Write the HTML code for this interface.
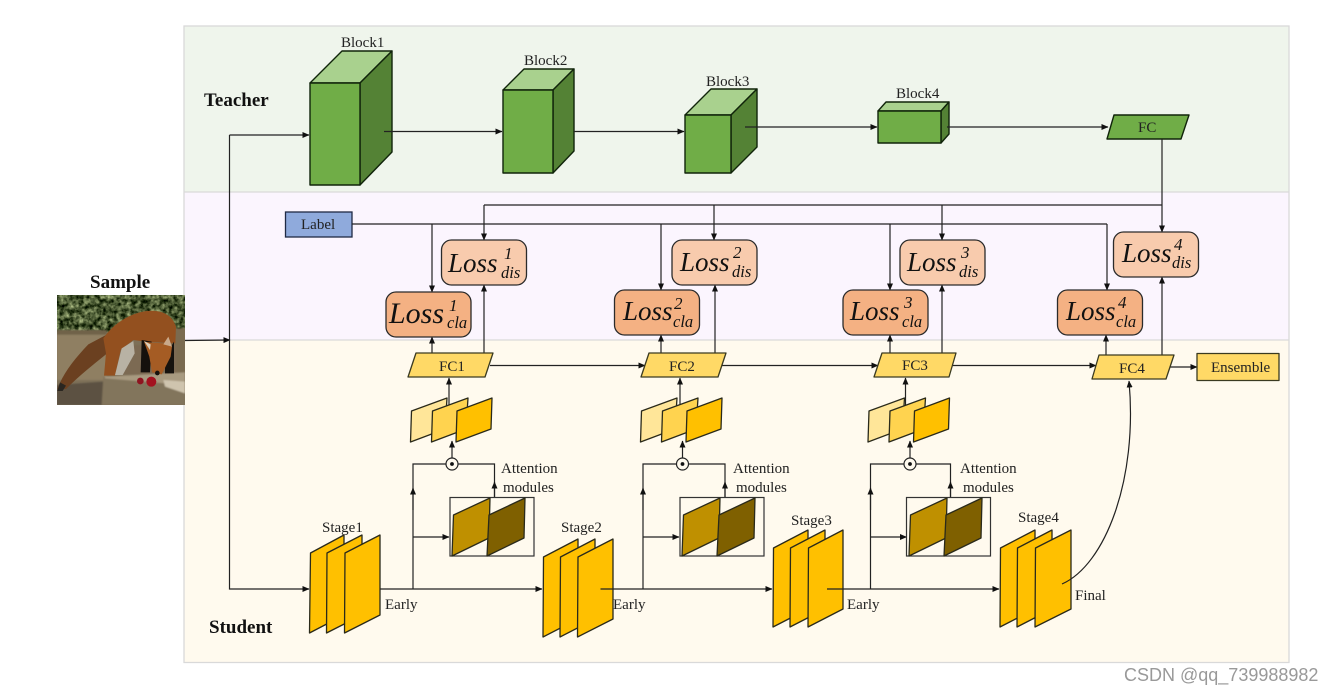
<!DOCTYPE html>
<html><head><meta charset="utf-8"><style>
html,body{margin:0;padding:0;background:#fff;width:1331px;height:693px;overflow:hidden}
svg{display:block}
text{font-family:"Liberation Serif",serif;fill:#222;font-size:15px}
.b{font-weight:bold;font-size:19px;fill:#111}
.l{font-style:italic;fill:#111}
.ll{font-size:27px}
.l1{font-size:30px}
.su{font-size:17px}
.sb{font-size:16.5px}
.ln{fill:none;stroke:#222;stroke-width:1.2}
.a{fill:none;stroke:#222;stroke-width:1.2;marker-end:url(#h)}
.s{stroke:#2a2a1a;stroke-width:1.3;stroke-linejoin:round}
.g{stroke:#10240a;stroke-width:1.4;stroke-linejoin:round}
</style></head><body>
<svg width="1331" height="693" viewBox="0 0 1331 693" xmlns="http://www.w3.org/2000/svg">
<defs>
<marker id="h" markerUnits="userSpaceOnUse" markerWidth="7" markerHeight="6" refX="6.5" refY="3" orient="auto"><path d="M0,0 L7,3 L0,6 Z" fill="#111"/></marker>
<filter id="bl" x="-10%" y="-10%" width="120%" height="120%"><feGaussianBlur stdDeviation="2.2"/></filter>
<filter id="fol" x="0" y="0" width="100%" height="100%" color-interpolation-filters="sRGB"><feTurbulence type="fractalNoise" baseFrequency="0.07" numOctaves="3" seed="7"/><feColorMatrix type="matrix" values="0 0 0 1.1 -0.26  0 0 0 1.1 -0.2  0 0 0 0.9 -0.25  0 0 0 0 1"/></filter>
<clipPath id="ph"><rect x="57" y="295" width="128" height="110"/></clipPath>
</defs>

<!-- panels -->
<rect x="184" y="26" width="1105" height="166" fill="#eff5ec"/>
<rect x="184" y="192" width="1105" height="148" fill="#fbf5fe"/>
<rect x="184" y="340" width="1105" height="322" fill="#fffaee"/>
<rect x="184" y="26" width="1105" height="636.500" fill="none" stroke="#d9d9d9" stroke-width="1.3"/>
<path d="M184,192H1289M184,340H1289" stroke="#d9d9d9" stroke-width="1.3" fill="none"/>

<!-- photo -->
<g clip-path="url(#ph)">
<rect x="57" y="295" width="128" height="110" fill="#7d7058"/>
<g transform="translate(50,285) scale(.33333)">
<rect x="20" y="30" width="390" height="110" fill="#4c5236" filter="url(#fol)"/>
</g>
<g transform="translate(50,285) scale(.33333)" filter="url(#bl)">
<rect x="20" y="135" width="150" height="150" fill="#8f7f62"/>
<rect x="20" y="135" width="150" height="14" fill="#6f624a"/>
<rect x="360" y="130" width="50" height="150" fill="#7a6a50"/>
<rect x="200" y="180" width="180" height="90" fill="#7c6b52"/>
<path d="M20,300 L160,290 V360 H20Z" fill="#5b5142"/>
<path d="M160,275 L405,295 V360 H155Z" fill="#82755c"/>
<path d="M165,275 L405,262 V300 L165,280Z" fill="#a89a80"/>
<path d="M340,285 L405,290 V325 L345,305Z" fill="#cfc4ae"/>
</g>
<g transform="translate(50,285) scale(.33333)" style="filter:blur(.6px)">
<path d="M22,312 C40,265 70,225 115,178 L168,150 L178,200 C135,235 90,270 48,312Z" fill="#6b4020"/>
<path d="M22,318 L30,292 L48,302 L38,318Z" fill="#2a2620"/>
<path d="M160,160 C190,115 240,85 290,78 C330,74 365,85 378,125 L376,175 L285,170 L250,165 L212,195 L195,272 L162,272 L168,205Z" fill="#93501f"/>
<path d="M215,190 L250,168 L254,205 L218,270 L195,270Z" fill="#b8b2a4"/>
<path d="M275,165 L305,170 L300,262 L272,262Z" fill="#15110d"/>
<path d="M345,215 L372,170 L372,265 L345,265Z" fill="#16120e"/>
<path d="M282,170 L300,172 L340,175 L355,155 L366,185 L362,215 L335,268 L306,262 L298,215Z" fill="#a55c24"/>
<path d="M282,168 L302,178 L300,195Z" fill="#ddd0bb"/>
<path d="M340,178 L355,155 L366,185Z" fill="#c9a98a"/>
<circle cx="322" cy="264" r="7" fill="#16120e"/>
<circle cx="304" cy="290" r="15" fill="#a3121f"/>
<circle cx="271" cy="288" r="10" fill="#8e1420"/>
</g>
</g>
<text class="b" x="90" y="288">Sample</text>

<!-- main left trunk -->
<path class="a" d="M185,340.500 L230,340"/>
<path class="a" d="M229.500,135 V589 H309"/>
<path class="a" d="M229.500,135 H309"/>

<!-- cubes -->
<g class="g">
<path d="M310,83 L342,51 H392 L360,83Z" fill="#a9d18e"/>
<path d="M360,83 L392,51 V152 L360,185Z" fill="#548235"/>
<rect x="310" y="83" width="50" height="102" fill="#70ad47"/>
<path d="M503,90 L524,69 H574 L553,90Z" fill="#a9d18e"/>
<path d="M553,90 L574,69 V151 L553,173Z" fill="#548235"/>
<rect x="503" y="90" width="50" height="83" fill="#70ad47"/>
<path d="M685,115 L711,89 H757 L731,115Z" fill="#a9d18e"/>
<path d="M731,115 L757,89 V147 L731,173Z" fill="#548235"/>
<rect x="685" y="115" width="46" height="58" fill="#70ad47"/>
<path d="M878,111 L886,102 H949 L941,111Z" fill="#a9d18e"/>
<path d="M941,111 L949,102 V134 L941,143Z" fill="#548235"/>
<rect x="878" y="111" width="63" height="32" fill="#70ad47"/>
<path d="M1114,115 H1189 L1181,139 H1107Z" fill="#70ad47"/>
</g>
<text x="341" y="47">Block1</text><text x="524" y="65">Block2</text><text x="706" y="86">Block3</text><text x="896" y="98">Block4</text>
<text x="1138" y="132">FC</text>
<text class="b" x="204" y="106">Teacher</text>
<text class="b" x="209" y="633">Student</text>
<path class="a" d="M384,131.500 H502"/><path class="a" d="M574,131.500 H684"/><path class="a" d="M745,127 H877"/><path class="a" d="M947,127 H1108"/>

<!-- label + lines -->
<rect x="285.500" y="212" width="66.500" height="25" fill="#8faadc" stroke="#1f2a44" stroke-width="1.3"/>
<text x="301" y="229">Label</text>
<path class="ln" d="M352,224 H1107"/>
<path class="ln" d="M484,205 H1162"/>
<path class="a" d="M432,224 V292"/><path class="a" d="M661,224 V290"/><path class="a" d="M890,224 V290"/><path class="a" d="M1107,224 V290"/>
<path class="a" d="M484,205 V240"/><path class="a" d="M714,205 V240"/><path class="a" d="M942,205 V240"/><path class="a" d="M1162,139 V232"/>
<path class="a" d="M432,353 V337"/><path class="a" d="M484,353 V285"/>
<path class="a" d="M661,353 V335"/><path class="a" d="M715,353 V285"/>
<path class="a" d="M890,353 V335"/><path class="a" d="M942,353 V285"/>
<path class="a" d="M1106,355 V335"/><path class="a" d="M1162,355 V277"/>

<!-- loss boxes -->
<g stroke="#2b2b2b" stroke-width="1.3">
<rect x="386" y="292" width="85" height="45" rx="10" fill="#f4b183"/>
<rect x="614.500" y="290" width="85" height="45" rx="10" fill="#f4b183"/>
<rect x="843" y="290" width="85" height="45" rx="10" fill="#f4b183"/>
<rect x="1057.500" y="290" width="85" height="45" rx="10" fill="#f4b183"/>
<rect x="441.500" y="240" width="85" height="45" rx="10" fill="#f8cbad"/>
<rect x="672" y="240" width="85" height="45" rx="10" fill="#f8cbad"/>
<rect x="900" y="240" width="85" height="45" rx="10" fill="#f8cbad"/>
<rect x="1113.500" y="232" width="85" height="45" rx="10" fill="#f8cbad"/>
</g>
<text class="l l1" x="389" y="323">Loss</text><text class="l su" x="449" y="311">1</text><text class="l sb" x="447" y="328">cla</text>
<text class="l ll" x="448" y="272">Loss</text><text class="l su" x="504" y="259">1</text><text class="l sb" x="501" y="278">dis</text>
<text class="l ll" x="623" y="320">Loss</text><text class="l su" x="674" y="309">2</text><text class="l sb" x="673" y="327">cla</text>
<text class="l ll" x="680" y="271">Loss</text><text class="l su" x="733" y="258">2</text><text class="l sb" x="732" y="277">dis</text>
<text class="l ll" x="850" y="320">Loss</text><text class="l su" x="904" y="308">3</text><text class="l sb" x="902" y="327">cla</text>
<text class="l ll" x="907" y="271">Loss</text><text class="l su" x="961" y="258">3</text><text class="l sb" x="959" y="277">dis</text>
<text class="l ll" x="1066" y="320">Loss</text><text class="l su" x="1118" y="308">4</text><text class="l sb" x="1116" y="327">cla</text>
<text class="l ll" x="1122" y="262">Loss</text><text class="l su" x="1174" y="250">4</text><text class="l sb" x="1172" y="268">dis</text>

<!-- FC student -->
<path class="a" d="M490,365.500 H645"/><path class="a" d="M722,365.500 H878"/><path class="a" d="M952,365.500 H1096"/><path class="a" d="M1170,367 H1197"/>
<g stroke="#3a3a20" stroke-width="1.3" fill="#ffd966" stroke-linejoin="round">
<path d="M416,353 H493 L485,377 H408Z"/>
<path d="M649,353 H726 L718,377 H641Z"/>
<path d="M882,353 H956 L949,377 H874Z"/>
<path d="M1099,355 H1174 L1166,379 H1092Z"/>
<rect x="1197" y="353.500" width="82" height="27"/>
</g>
<text x="439" y="371">FC1</text><text x="669" y="371">FC2</text><text x="902" y="370">FC3</text><text x="1119" y="373">FC4</text><text x="1211" y="372">Ensemble</text>

<!-- feature triples + attention -->
<g>
<path class="a" d="M449,407 V378"/>
<g class="s">
<path d="M411.500,411 L447,398 L445,429 L410.500,442Z" fill="#ffe699"/>
<path d="M432.500,411 L468,398 L466,429 L431.500,442Z" fill="#ffd34f"/>
<path d="M457,411 L492,398 L491,429 L456,442Z" fill="#ffc000"/>
</g>
<path class="a" d="M452,458 V441"/>
<path class="ln" d="M413,589 V464 H446"/><path class="a" d="M413,510 V488"/>
<path class="ln" d="M458,464 H494.500 V497"/><path class="a" d="M494.500,497 V482"/>
<circle cx="452" cy="464" r="6" fill="#fffaee" stroke="#222" stroke-width="1.2"/><circle cx="452" cy="464" r="1.900" fill="#111"/>
<path class="a" d="M413,537 H449"/>
<rect x="450" y="497.500" width="84" height="58.500" fill="none" stroke="#333" stroke-width="1.2"/>
<g class="s">
<path d="M453.500,515 L490,498 L489,538 L452,556Z" fill="#bf9000"/>
<path d="M489,515 L525,498 L524,538 L487,556Z" fill="#7f6000"/>
</g>
</g>
<g transform="translate(230,0)">
<path class="a" d="M450,407 V378"/>
<g class="s">
<path d="M411.500,411 L447,398 L445,429 L410.500,442Z" fill="#ffe699"/>
<path d="M432.500,411 L468,398 L466,429 L431.500,442Z" fill="#ffd34f"/>
<path d="M457,411 L492,398 L491,429 L456,442Z" fill="#ffc000"/>
</g>
<path class="a" d="M452.500,458 V441"/>
<path class="ln" d="M413,589 V464 H446"/><path class="a" d="M413,510 V488"/>
<path class="ln" d="M458,464 H495 V497"/><path class="a" d="M495,497 V482"/>
<circle cx="452.500" cy="464" r="6" fill="#fffaee" stroke="#222" stroke-width="1.2"/><circle cx="452.500" cy="464" r="1.900" fill="#111"/>
<path class="a" d="M413,537 H449"/>
<rect x="450" y="497.500" width="84" height="58.500" fill="none" stroke="#333" stroke-width="1.2"/>
<g class="s">
<path d="M453.500,515 L490,498 L489,538 L452,556Z" fill="#bf9000"/>
<path d="M489,515 L525,498 L524,538 L487,556Z" fill="#7f6000"/>
</g>
</g>
<g transform="translate(457.500,0)">
<path class="a" d="M448,407 V378"/>
<g class="s">
<path d="M411.500,411 L447,398 L445,429 L410.500,442Z" fill="#ffe699"/>
<path d="M432.500,411 L468,398 L466,429 L431.500,442Z" fill="#ffd34f"/>
<path d="M457,411 L492,398 L491,429 L456,442Z" fill="#ffc000"/>
</g>
<path class="a" d="M452.500,458 V441"/>
<path class="ln" d="M413,589 V464 H446"/><path class="a" d="M413,510 V488"/>
<path class="ln" d="M458,464 H493 V497"/><path class="a" d="M493,497 V482"/>
<circle cx="452.500" cy="464" r="6" fill="#fffaee" stroke="#222" stroke-width="1.2"/><circle cx="452.500" cy="464" r="1.900" fill="#111"/>
<path class="a" d="M413,537 H449"/>
<rect x="449" y="497.500" width="84" height="58.500" fill="none" stroke="#333" stroke-width="1.2"/>
<g class="s">
<path d="M453,515 L489.500,498 L488.500,538 L451.500,556Z" fill="#bf9000"/>
<path d="M488.500,515 L524.500,498 L523.500,538 L486.500,556Z" fill="#7f6000"/>
</g>
</g>
<text x="501" y="473">Attention</text><text x="503" y="492">modules</text>
<text x="733" y="473">Attention</text><text x="736" y="492">modules</text>
<text x="960" y="473">Attention</text><text x="963" y="492">modules</text>

<!-- stages -->
<g class="s" fill="#ffc000">
<path d="M310.500,553 L344,535 V615 L309.500,633Z"/><path d="M327,553 L362,535 V615 L326.500,633Z"/><path d="M345,553 L380,535 V615 L344.500,633Z"/>
<path d="M543.500,557 L578,539 V619 L543,637Z"/><path d="M560.500,557 L595,539 V619 L560,637Z"/><path d="M578,557 L613,539 V619 L577.500,637Z"/>
<path d="M773.500,548 L808,530 V609 L773,627Z"/><path d="M790.500,548 L825,530 V609 L790,627Z"/><path d="M808.500,548 L843,530 V609 L808,627Z"/>
<path d="M1000.500,548 L1035,530 V609 L1000,627Z"/><path d="M1017.500,548 L1052,530 V609 L1017,627Z"/><path d="M1035.500,548 L1071,530 V609 L1035,627Z"/>
</g>
<text x="322" y="532">Stage1</text><text x="561" y="532">Stage2</text><text x="791" y="525">Stage3</text><text x="1018" y="522">Stage4</text>
<path class="a" d="M380,589 H542"/><path class="a" d="M600.500,589 H772"/><path class="a" d="M827,589 H999"/>
<path class="a" d="M1062,584 C1105,565 1138,480 1129,381"/>
<text x="385" y="609">Early</text><text x="613" y="609">Early</text><text x="847" y="609">Early</text><text x="1075" y="600">Final</text>

<text x="1124" y="681" style="font-family:'Liberation Sans',sans-serif;font-size:18px;fill:#999">CSDN @qq_739988982</text>
</svg>
</body></html>
